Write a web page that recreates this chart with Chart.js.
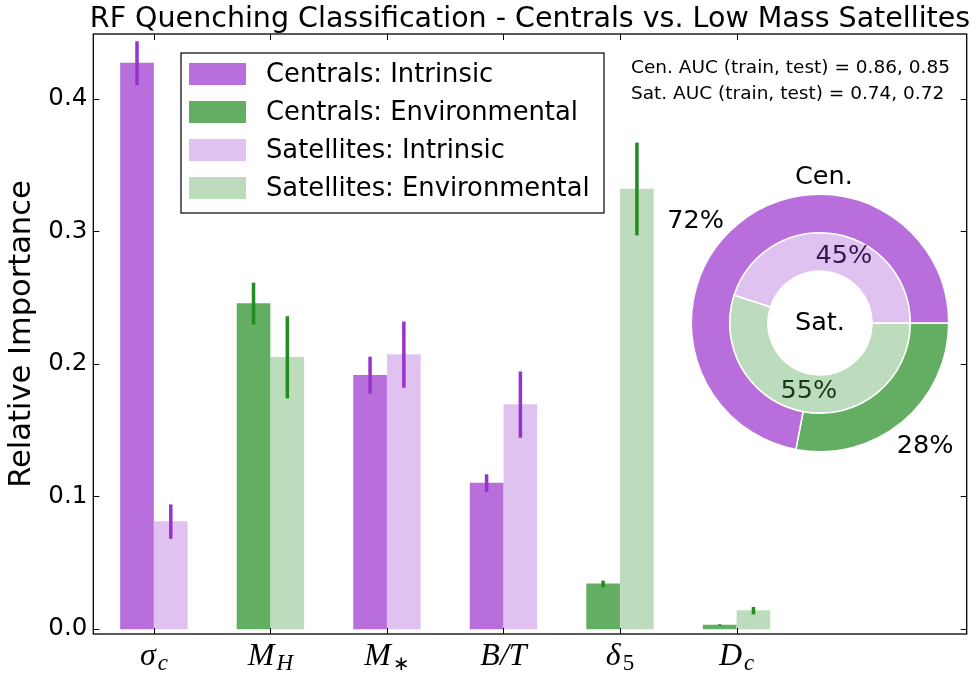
<!DOCTYPE html>
<html>
<head>
<meta charset="utf-8">
<script src="https://cdn.jsdelivr.net/npm/chart.js@4.4.0/dist/chart.umd.min.js"></script>
<style>
  html, body { margin: 0; padding: 0; background: #fff; }
  #wrap { position: relative; width: 977px; height: 673px; }
  #barChart { position: absolute; left: 0; top: 0; }
  #pieChart { position: absolute; left: 650px; top: 153px; }
</style>
</head>
<body>
<div id="wrap">
  <canvas id="barChart" width="977" height="673"></canvas>
  <canvas id="pieChart" width="340" height="340"></canvas>
</div>
<script>
// features, drawn as symbol + subscript under the x axis
var featureSymbols = ['σ', 'M', 'M', 'B/T', 'δ', 'D'];
var featureSubscripts = ['c', 'H', '∗', '', '5', 'c'];
var featureTypes = ['Intrinsic', 'Environmental', 'Intrinsic', 'Intrinsic', 'Environmental', 'Environmental'];

// relative importance and its error for centrals and low mass satellites
var centralImportance = [0.427, 0.2455, 0.1915, 0.110, 0.034, 0.003];
var centralError = [0.0165, 0.0158, 0.014, 0.0067, 0.0025, 0.0005];
var satelliteImportance = [0.081, 0.205, 0.207, 0.1693, 0.332, 0.0138];
var satelliteError = [0.013, 0.031, 0.025, 0.025, 0.035, 0.0028];

// summed importance, percent (intrinsic, environmental)
var centralShares = [72, 28];
var satelliteShares = [45, 55];

// AUC (train, test)
var centralAUC = [0.86, 0.85];
var satelliteAUC = [0.74, 0.72];

var colors = {
  cenIntr: '#B86FDB', cenEnv: '#64AE64',
  satIntr: '#E0C2F0', satEnv: '#BDDCBD',
  errIntr: '#9932CC', errEnv: '#228B22'
};

function makeSet(label, values, errors, type, shift, color) {
  var pts = [], errs = [];
  for (var i = 0; i < values.length; i++) {
    if (featureTypes[i] !== type) continue;
    pts.push({ x: i + shift, y: values[i] });
    errs.push(errors[i]);
  }
  return {
    label: label, data: pts, errors: errs,
    errorColor: type === 'Intrinsic' ? colors.errIntr : colors.errEnv,
    backgroundColor: color, borderWidth: 0,
    barThickness: 33, grouped: false
  };
}

var barSets = [
  makeSet('Centrals: Intrinsic', centralImportance, centralError, 'Intrinsic', -0.145, colors.cenIntr),
  makeSet('Centrals: Environmental', centralImportance, centralError, 'Environmental', -0.145, colors.cenEnv),
  makeSet('Satellites: Intrinsic', satelliteImportance, satelliteError, 'Intrinsic', 0.145, colors.satIntr),
  makeSet('Satellites: Environmental', satelliteImportance, satelliteError, 'Environmental', 0.145, colors.satEnv)
];

var errorBars = {
  id: 'errorBars',
  afterDatasetsDraw: function (chart) {
    var ctx = chart.ctx, ys = chart.scales.y;
    ctx.save();
    ctx.lineWidth = 3.5;
    chart.data.datasets.forEach(function (ds, di) {
      chart.getDatasetMeta(di).data.forEach(function (bar, k) {
        var v = ds.data[k].y, e = ds.errors[k];
        ctx.strokeStyle = ds.errorColor;
        ctx.beginPath();
        ctx.moveTo(bar.x, ys.getPixelForValue(v - e));
        ctx.lineTo(bar.x, ys.getPixelForValue(v + e));
        ctx.stroke();
      });
    });
    ctx.restore();
  }
};

function drawFeatureLabel(ctx, cx, base, sym, sub) {
  var mainFont = 'italic 32px "Liberation Serif"';
  var subFont = (/[0-9]/.test(sub) ? '' : 'italic ') + '23px "Liberation Serif"';
  if (sub === '∗') subFont = '20px "DejaVu Sans"';
  ctx.font = mainFont;
  var w1 = ctx.measureText(sym).width;
  ctx.font = subFont;
  var w2 = sub ? ctx.measureText(sub).width + 2 : 0;
  var x0 = cx - (w1 + w2) / 2;
  ctx.font = mainFont;
  ctx.fillText(sym, x0, base);
  if (sub) {
    ctx.font = subFont;
    ctx.fillText(sub, x0 + w1 + 2, base + 5);
  }
}

var frameAndText = {
  id: 'frameAndText',
  afterDraw: function (chart) {
    var ctx = chart.ctx, a = chart.chartArea;
    var xs = chart.scales.x, ys = chart.scales.y;
    ctx.save();
    ctx.strokeStyle = '#000';
    ctx.lineWidth = 1.3;
    ctx.strokeRect(a.left, a.top, a.right - a.left, a.bottom - a.top);

    // inward ticks on all four sides
    ctx.lineWidth = 1;
    ctx.beginPath();
    ys.ticks.forEach(function (t) {
      var py = Math.round(ys.getPixelForValue(t.value)) + 0.5;
      ctx.moveTo(a.left, py); ctx.lineTo(a.left + 6, py);
      ctx.moveTo(a.right, py); ctx.lineTo(a.right - 6, py);
    });
    featureSymbols.forEach(function (s, i) {
      var px = Math.round(xs.getPixelForValue(i)) + 0.5;
      ctx.moveTo(px, a.top); ctx.lineTo(px, a.top + 6);
      ctx.moveTo(px, a.bottom); ctx.lineTo(px, a.bottom - 6);
    });
    ctx.stroke();

    // x tick labels
    ctx.fillStyle = '#000';
    ctx.textAlign = 'left';
    ctx.textBaseline = 'alphabetic';
    featureSymbols.forEach(function (s, i) {
      drawFeatureLabel(ctx, xs.getPixelForValue(i), a.bottom + 31, s, featureSubscripts[i]);
    });

    // title
    ctx.textAlign = 'center';
    ctx.font = '28.5px "DejaVu Sans"';
    ctx.fillText('RF Quenching Classification - Centrals vs. Low Mass Satellites', (a.left + a.right) / 2, 27);

    // AUC notes
    ctx.textAlign = 'left';
    ctx.textBaseline = 'middle';
    ctx.font = '18.5px "DejaVu Sans"';
    ctx.fillText('Cen. AUC (train, test) = ' + centralAUC[0].toFixed(2) + ', ' + centralAUC[1].toFixed(2), 631, 68);
    ctx.fillText('Sat. AUC (train, test) = ' + satelliteAUC[0].toFixed(2) + ', ' + satelliteAUC[1].toFixed(2), 631, 94);

    // legend box
    ctx.fillStyle = '#fff';
    ctx.fillRect(181, 53, 423, 160);
    ctx.lineWidth = 1.2;
    ctx.strokeRect(181, 53, 423, 160);
    ctx.font = '25.8px "DejaVu Sans"';
    chart.data.datasets.forEach(function (ds, i) {
      ctx.fillStyle = ds.backgroundColor;
      ctx.fillRect(189, 63 + 38 * i, 57, 22);
      ctx.fillStyle = '#000';
      ctx.fillText(ds.label, 266, 75 + 38 * i);
    });
    ctx.restore();
  }
};

new Chart(document.getElementById('barChart'), {
  type: 'bar',
  data: { datasets: barSets },
  options: {
    responsive: false,
    animation: false,
    layout: { padding: { top: 34, right: 10.3, left: 0, bottom: 0 } },
    plugins: { legend: { display: false }, tooltip: { enabled: false } },
    scales: {
      x: {
        type: 'linear', min: -0.52, max: 6.975, offset: false,
        grid: { display: false, drawTicks: false },
        border: { display: false },
        ticks: { display: false },
        afterFit: function (s) { s.height = 39; }
      },
      y: {
        min: -0.0038, max: 0.449,
        grid: { display: false, drawTicks: false },
        border: { display: false },
        ticks: {
          stepSize: 0.1, includeBounds: false, padding: 6, color: '#000',
          font: { family: 'DejaVu Sans', size: 24.5 },
          callback: function (v) { return v.toFixed(1); }
        },
        title: {
          display: true, text: 'Relative Importance', color: '#000',
          font: { family: 'DejaVu Sans', size: 30.5 },
          padding: { top: 4, bottom: 0 }
        },
        afterFit: function (s) { s.width = 93.3; }
      }
    }
  },
  plugins: [errorBars, frameAndText]
});

// inset: share of total importance, centrals outside, satellites inside
var pieLabels = {
  id: 'pieLabels',
  afterDraw: function (chart) {
    var ctx = chart.ctx;
    var arc = chart.getDatasetMeta(0).data[0];
    var cx = arc.x, cy = arc.y, R = arc.outerRadius;
    var items = [
      ['Cen.', 0.03, -1.13, '#000'],
      ['Sat.', 0, 0, '#000'],
      [centralShares[0] + '%', -0.967, -0.787, '#000'],
      [centralShares[1] + '%', 0.817, 0.958, '#000'],
      [satelliteShares[0] + '%', 0.185, -0.52, '#3a1450'],
      [satelliteShares[1] + '%', -0.086, 0.534, '#143c14']
    ];
    ctx.save();
    ctx.font = '25.5px "DejaVu Sans"';
    ctx.textAlign = 'center';
    ctx.textBaseline = 'middle';
    items.forEach(function (it) {
      ctx.fillStyle = it[3];
      ctx.fillText(it[0], cx + it[1] * R, cy + it[2] * R);
    });
    ctx.restore();
  }
};

new Chart(document.getElementById('pieChart'), {
  type: 'doughnut',
  data: {
    labels: ['Environmental', 'Intrinsic'],
    datasets: [
      { data: [centralShares[1], centralShares[0]], backgroundColor: [colors.cenEnv, colors.cenIntr], borderColor: '#fff', borderWidth: 1.5 },
      { data: [satelliteShares[1], satelliteShares[0]], backgroundColor: [colors.satEnv, colors.satIntr], borderColor: '#fff', borderWidth: 1.5 }
    ]
  },
  options: {
    responsive: false,
    animation: false,
    rotation: 90,
    radius: 128.7,
    cutout: '40.4%',
    hoverOffset: 0,
    plugins: { legend: { display: false }, tooltip: { enabled: false } }
  },
  plugins: [pieLabels]
});
</script>
</body>
</html>
